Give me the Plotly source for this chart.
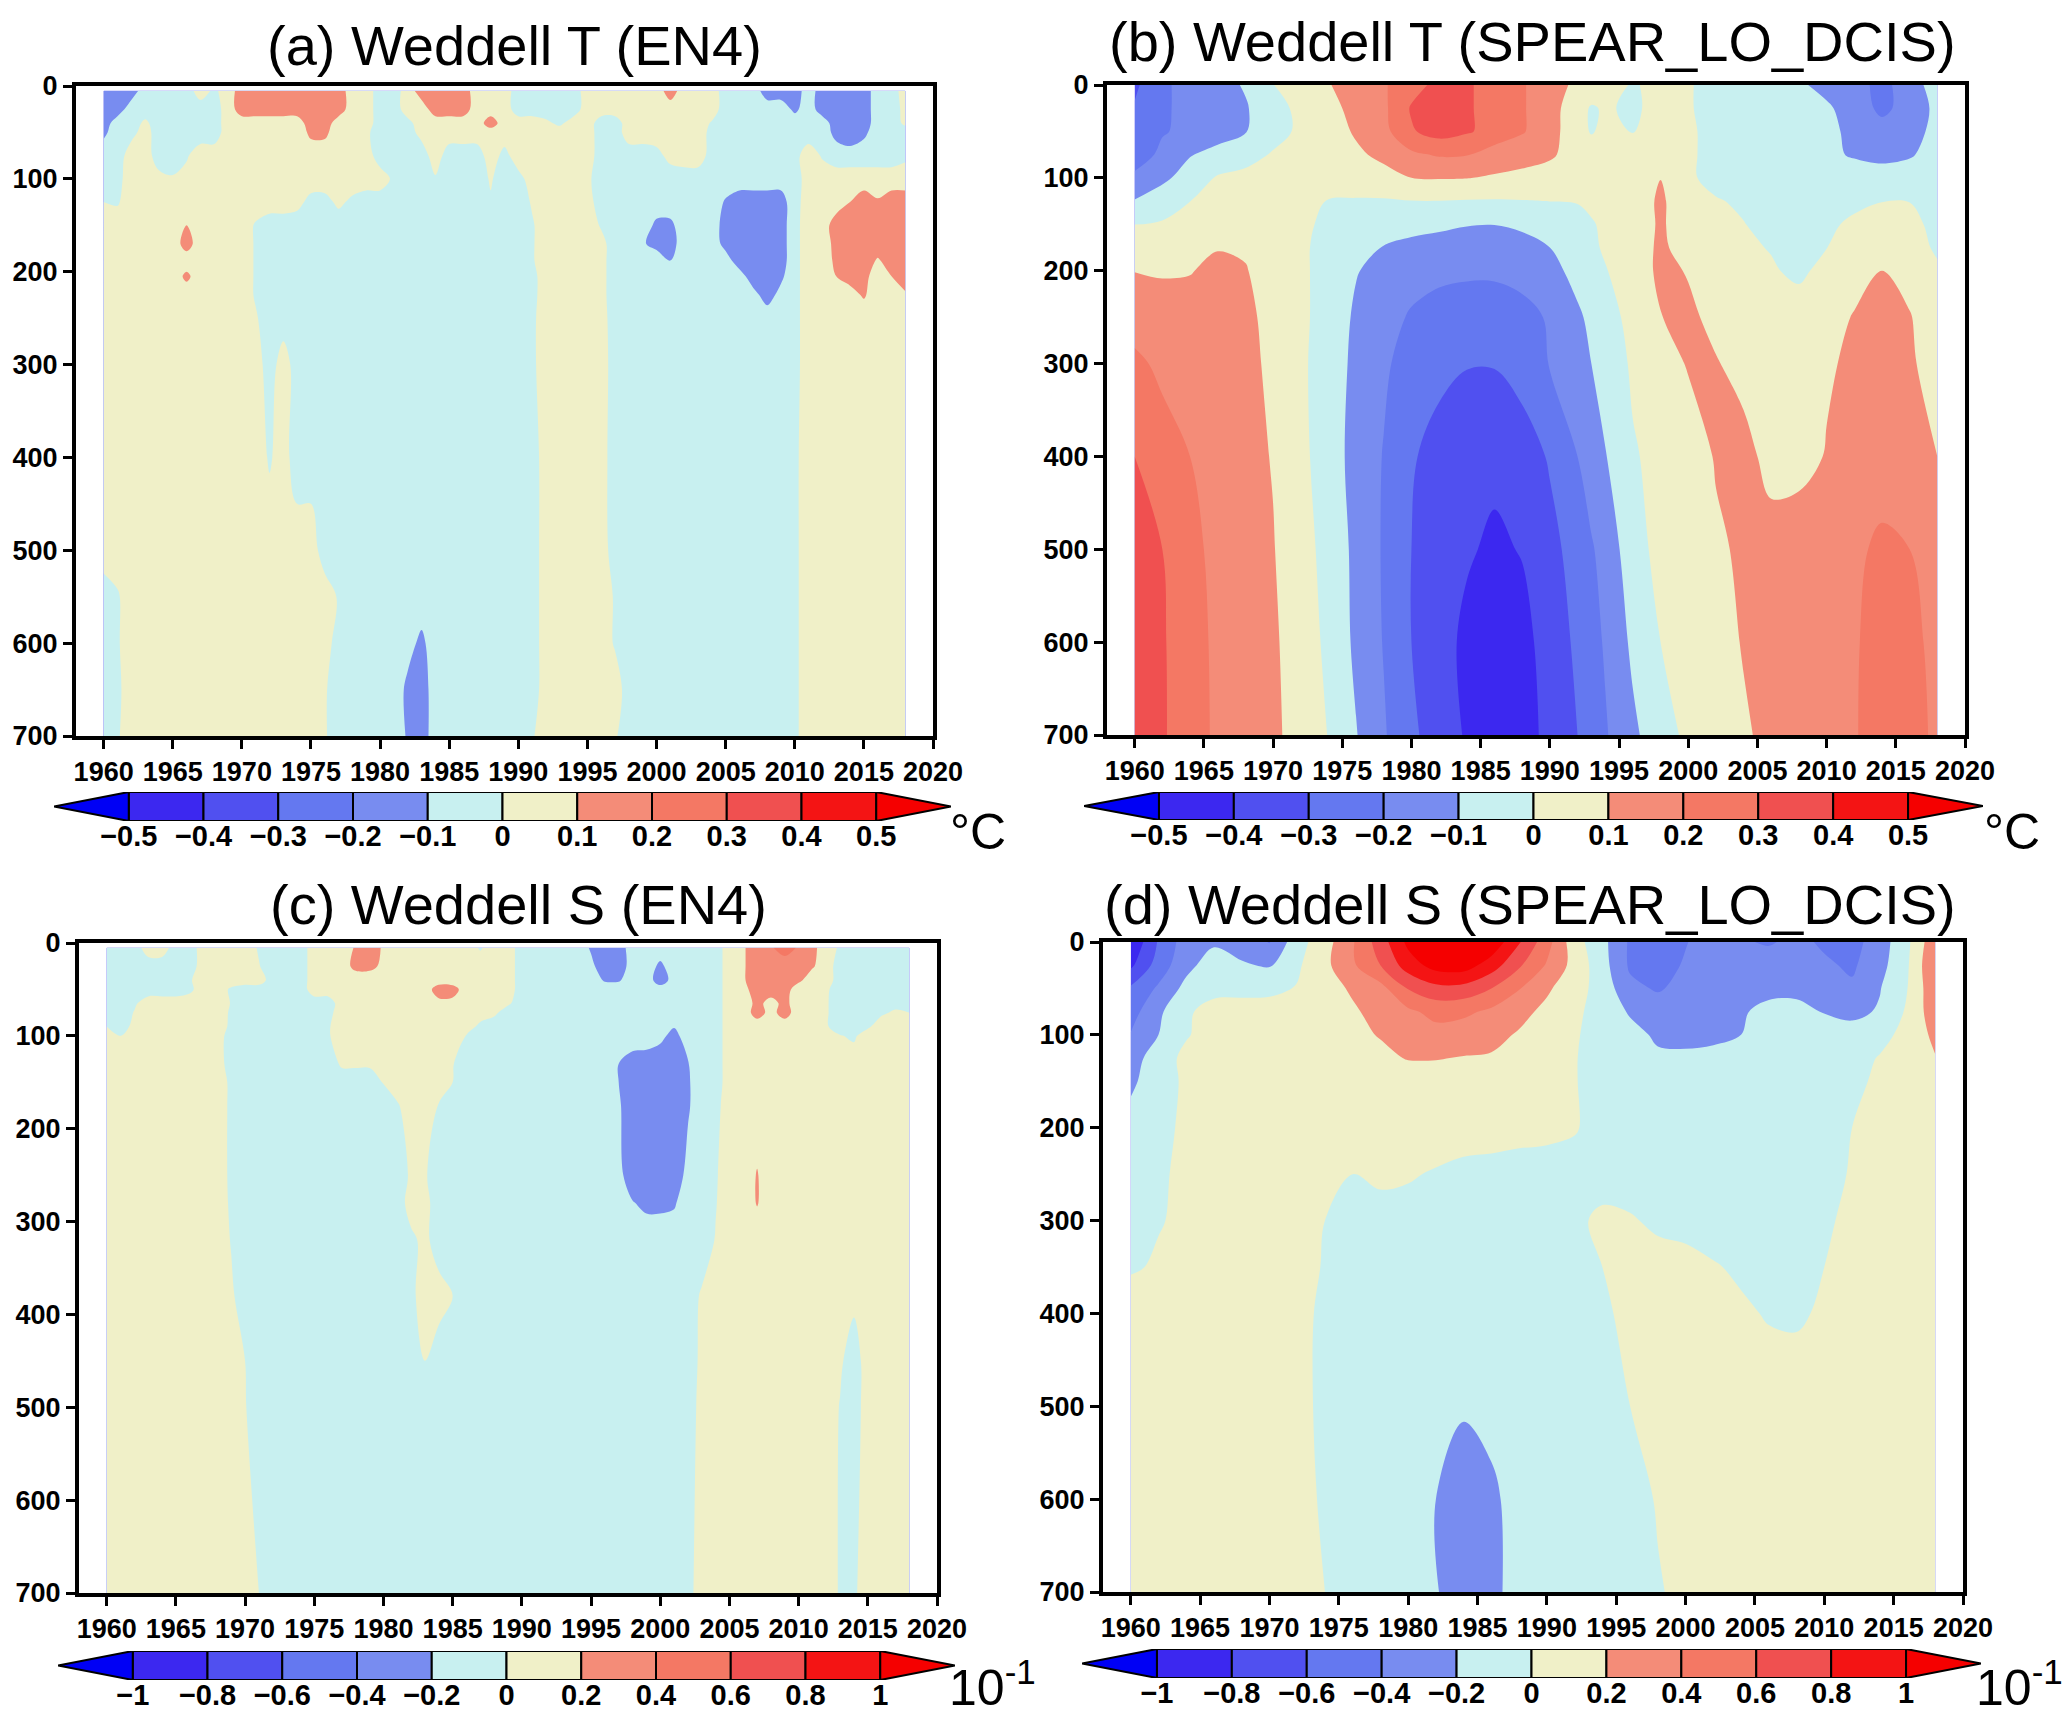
import numpy as np
import plotly.graph_objects as go

# ---------- shared ----------
YEARS_FULL = list(range(1960, 2019))
YEARS_B = [1960,1962,1964,1966,1968,1970,1972,1974,1976,1978,1980,1982,1984,1986,1988,1990,1992,1993,1994,1996,1998,2000,2002,2004,2006,2008,2010,2012,2014,2016,2018]
YEARS_D = list(range(1960, 2019, 2))
X_TICKS = [1960, 1965, 1970, 1975, 1980, 1985, 1990, 1995, 2000, 2005, 2010, 2015, 2020]
Y_TICKS = [0, 100, 200, 300, 400, 500, 600, 700]
BAND_COLORS = ["#0000F5", "#3C28F0", "#5050F0", "#6478F0", "#788CF0", "#C8F0F0",
               "#F0F0C8", "#F48C78", "#F47864", "#F05050", "#F41414", "#F50000"]
T_LEVELS = [-0.5, -0.4, -0.3, -0.2, -0.1, 0, 0.1, 0.2, 0.3, 0.4, 0.5]
T_LABELS = ["\u22120.5", "\u22120.4", "\u22120.3", "\u22120.2", "\u22120.1", "0", "0.1", "0.2", "0.3", "0.4", "0.5"]
S_LEVELS = [-1, -0.8, -0.6, -0.4, -0.2, 0, 0.2, 0.4, 0.6, 0.8, 1]
S_LABELS = ["\u22121", "\u22120.8", "\u22120.6", "\u22120.4", "\u22120.2", "0", "0.2", "0.4", "0.6", "0.8", "1"]

# ---------- (a) Weddell T (EN4), hundredths of a degree ----------
DEPTH_A = [5, 25, 40, 50, 75, 100, 125, 150, 170, 188, 205, 225, 250, 300, 400, 500, 550, 600, 650, 700]
T_EN4 = [
 [-15,-15,-15,-5,-5,-5,-5,5,-2,5, 15,15,15,15,15,15,15,15,5,5, -5,-5,5,15,15,15,15,5,5,5, -5,-5,-5,-5,-5,5,5,5,5,5, 5,15,5,5,5,-5,-5,-5,-15,-15, -15,-5,-15,-15,-15,-15,-5,-5,5],
 [-15,-15,-5,-5,-5,-5,-5,-5,-5,5, 15,15,15,15,15,15,15,15,5,5, -5,-5,5,5,15,15,15,5,5,5, -5,-5,-5,-5,-5,5,5,5,5,5, 5,5,5,5,5,-5,-5,-5,-5,-5, -12,-5,-15,-15,-15,-15,-5,-5,3],
 [-15,-5,-5,2,-5,-5,-5,-5,-5,5, 5,5,5,5,5,15,15,5,5,5, -5,-5,-3,5,5,5,5,5,15,5, 5,5,2,-2,5,5,-5,-5,5,5, 5,5,5,5,-1,-5,-5,-5,-5,-5, -5,-5,-5,-15,-15,-15,-5,-5,2],
 [-12,-5,-3,4,-5,-5,-5,-5,-5,5, 5,5,5,5,5,12,12,5,5,2, -5,-5,-4,3,5,5,5,5,5,5, 5,5,5,5,5,5,-5,-5,5,5, 5,5,5,5,-3,-5,-5,-5,-5,-5, -5,-5,-5,-13,-17,-12,-5,-5,-5],
 [-5,-5,5,5,-5,-5,-1,5,5,5, 5,5,5,5,5,5,5,5,5,5, -5,-5,-5,-5,5,-5,-5,-5,5,-3, 5,5,5,5,5,5,-5,-5,-5,-5, -3,3,5,5,-4,-5,-5,-5,-5,-5, -3,5,-1,-5,-5,-5,-5,-5,-2],
 [-5,-3,5,5,3,1,3,5,5,5, 5,5,5,5,5,5,5,5,5,5, 5,-2,-5,-5,-1,-5,-5,-5,1,-5, -3,4,5,5,5,2,-5,-5,-5,-5, -5,-5,-5,-5,-5,-5,-5,-5,-5,-5, -3,3,5,5,5,5,5,5,5],
 [0,-1,5,5,5,5,5,5,5,5, 5,5,5,5,3,-3,-3,2,-2,-5, -5,-5,-5,-5,-5,-5,-5,-5,-1,-5, -5,1,5,5,5,4,-5,-5,-5,-5, -5,-5,-5,-5,-5,-11,-15,-15,-15,-15, -3,4,5,5,10,15,11,15,15],
 [5,5,5,5,5,5,10,5,5,5, 5,-1,-5,-5,-5,-5,-5,-5,-5,-5, -5,-5,-5,-5,-5,-5,-5,-5,-5,-5, -5,-1,5,5,5,5,-1,-5,-5,-5, -12,-12,-5,-5,-5,-14,-15,-15,-15,-15, -3,5,5,15,15,15,15,15,15],
 [5,5,5,5,5,5,14,5,5,5, 5,-1,-5,-5,-5,-5,-5,-5,-5,-5, -5,-5,-5,-5,-5,-5,-5,-5,-5,-5, -5,-1,5,5,5,5,3,-5,-5,-9, -13,-14,-5,-5,-5,-13,-15,-15,-15,-15, -3,5,5,13,15,15,15,15,15],
 [5,5,5,5,5,5,5,5,5,5, 5,-1,-5,-5,-5,-5,-5,-5,-5,-5, -5,-5,-5,-5,-5,-5,-5,-5,-5,-5, -5,-1,5,5,5,5,3,-5,-5,-5, -5,-10,-5,-5,-5,-6,-15,-15,-15,-15, -3,5,5,12,15,15,9,14,15],
 [5,5,5,5,5,5,12,5,5,5, 5,-1,-5,-5,-5,-5,-5,-5,-5,-5, -5,-5,-5,-5,-5,-5,-5,-5,-5,-5, -5,-3,5,5,5,5,3,-5,-5,-5, -5,-5,-5,-5,-5,-5,-6,-15,-16,-12, -3,5,5,10,13,13,5,10,14],
 [5,5,5,5,5,5,5,5,5,5, 5,-1,-5,-5,-5,-5,-5,-5,-5,-5, -5,-5,-5,-5,-5,-5,-5,-5,-5,-5, -5,-3,5,5,5,5,3,-5,-5,-5, -5,-5,-5,-5,-5,-5,-5,-7,-14,-7, -3,5,5,5,7,11,5,5,9],
 [5,5,5,5,5,5,5,5,5,5, 5,1,-5,-5,-5,-5,-5,-5,-5,-5, -5,-5,-5,-5,-5,-5,-5,-5,-5,-5, -5,-2,5,5,5,5,4,-5,-5,-5, -5,-5,-5,-5,-5,-5,-5,-5,-5,-5, -3,5,5,5,5,5,5,5,5],
 [5,5,5,5,5,5,5,5,5,5, 5,5,-5,5,-5,-5,-5,-5,-5,-5, -5,-5,-5,-5,-5,-5,-5,-5,-5,-5, -5,-2,5,5,5,5,5,-5,-5,-5, -5,-5,-5,-5,-5,-5,-5,-5,-5,-5, -3,5,5,5,5,5,5,5,5],
 [5,5,5,5,5,5,5,5,5,5, 5,5,-1,4,-5,-5,-5,-5,-5,-5, -5,-5,-5,-5,-5,-5,-5,-5,-5,-5, -5,-5,5,5,5,5,4,-5,-5,-5, -5,-5,-5,-5,-5,-5,-5,-5,-5,-5, -2,5,5,5,5,5,5,5,5],
 [5,5,5,5,5,5,5,5,5,5, 5,5,5,5,5,5,-5,-5,-5,-5, -5,-5,-5,-5,-5,-5,-5,-5,-5,-5, -5,-5,5,5,5,5,5,-5,-5,-5, -5,-5,-5,-5,-5,-5,-5,-5,-5,-5, -2,5,5,5,5,5,5,5,5],
 [-5,-1,5,5,5,5,5,5,5,5, 5,5,5,5,5,5,5,-1,-5,-5, -5,-5,-5,-5,-5,-5,-5,-5,-5,-5, -5,-5,5,5,5,5,5,-1,-5,-5, -5,-5,-5,-5,-5,-5,-5,-5,-5,-5, -2,5,5,5,5,5,5,5,5],
 [-5,-1,5,5,5,5,5,5,5,5, 5,5,5,5,5,5,5,-5,-5,-5, -5,-5,-7,-12,-5,-5,-5,-5,-5,-5, -5,-5,5,5,5,5,5,-1,-5,-5, -5,-5,-5,-5,-5,-5,-5,-5,-5,-5, -2,5,5,5,5,5,5,5,5],
 [-5,-2,5,5,5,5,5,5,5,5, 5,5,5,5,5,5,1,-5,-5,-5, -5,-5,-12,-15,-5,-5,-5,-5,-5,-5, -5,-5,5,5,5,5,5,5,-5,-5, -5,-5,-5,-5,-5,-5,-5,-5,-5,-5, -2,5,5,5,5,5,5,5,5],
 [-5,-1,5,5,5,5,5,5,5,5, 5,5,5,5,5,5,1,-5,-5,-5, -5,-5,-11,-15,-5,-5,-5,-5,-5,-5, -5,-1,5,5,5,5,5,1,-5,-5, -5,-5,-5,-5,-5,-5,-5,-5,-5,-5, -2,5,5,5,5,5,5,5,5],
]

# ---------- (b) Weddell T (SPEAR_LO_DCIS), hundredths of a degree ----------
DEPTH_B = [0, 25, 50, 75, 100, 125, 150, 175, 200, 250, 300, 400, 500, 600, 700]
T_SPEAR = [
 [-32,-21,-18,-14,-9,-0.2,5,9.5,14,19,26,33,31,27,21,14,8,6,5,-1,3,0.5,-2,-4,-6,-9,-12,-15,-24,-13,-7],
 [-29,-21,-18,-16,-11,-3,2,7,13,18,31,36,31,27,21,14,4,-1,1,-1.5,3,0.5,-2,-4,-5,-8,-9,-13,-23,-15,-8],
 [-27,-21,-17,-14,-10.5,-4,2,6,11,17,29,34,31,27,21,13,5,-1,3,-0.5,5,1,-2,-4,-5,-5,-8,-12,-15,-14,-7],
 [-27,-17,-10.5,-7,-4,1,3,5,8.5,12,18,21,20.5,15,13,11,7,6.5,6,5,4,1,-2,-4,-5,-6,-8,-11,-12.5,-11,-6],
 [-17,-12,-6,1,3,3,2,4,5,7,10,10.5,10.3,9,8,7,6,5.5,5,4,9.8,1,-2,-3,-4,-5,-5,-5,-6,-5,-3],
 [-9.5,-5,-0.1,3,4,3,1,-0.2,-0.8,-1,-0.2,-0.1,-0.6,-0.8,-0.4,0.1,0.3,1.2,2,3,12,2,0.5,-1,-3,-5,-3,-1.2,-0.1,-0.1,-2],
 [-0.1,1,4,6,5.5,3.5,1,-1,-3,-5,-7,-8,-9.5,-9.8,-8,-5,-2,-0.5,1,3.5,11.5,4,2,0.2,-2,-4,-1,1,2,1.5,-1.5],
 [7,6,7.5,9.5,9,5,1,-2,-6,-10.5,-12.5,-14,-15,-15.5,-14,-10,-5,-1.5,1,4,12,5.5,3.5,1.5,-0.5,-3,-0.1,2.5,4,3,-1],
 [9.8,9,9.5,12.5,10.5,6,1.5,-3,-9.5,-13,-16.5,-18,-18.5,-18.5,-17,-13,-7,-3,-0.5,4.5,12,9.5,5.5,3,1,-2,3,7,10,7,1],
 [16,15,14.5,14,11.5,8,2,-4,-11.5,-16.5,-21,-23.5,-25,-25,-23,-19,-11.5,-8,-4,3,9.8,11.5,8,6,5.5,5,7,10.5,12.5,10.5,5],
 [22,18,16.5,15,12,8.5,2,-5.5,-12,-18.5,-24,-27.5,-29.5,-29.5,-26,-19.5,-14,-10,-6.5,1.5,7,10.5,10.5,7.5,6,6,9,11.5,13,11,7],
 [30,24,20,17,13,9.5,2.5,-5,-13.5,-20.5,-29,-33.5,-37,-38,-35,-29,-20,-15,-10.5,-1,3,6.5,10.5,12.5,7.5,7,10.5,13,15,14,10],
 [34,30,22,18,14,10.5,3.5,-3,-12.5,-21,-30,-36,-39,-41.5,-39.5,-33,-26,-21,-16.5,-4,3,6,9,11,13,15,17,18,22,20,14],
 [35,31,24,18,15,11.5,5,-2,-12,-20.5,-30,-36.5,-42,-46,-43,-36,-28,-23.5,-19,-8,0,4,7,10.5,13,15,17,19,24,23,17],
 [36,31,25,18,15,12,6,-0.3,-9.5,-19,-28,-35,-41,-45,-43,-38,-30,-25.5,-21,-12,-4,2,6,9,12,14,17,19.5,23,22,19],
]

# ---------- (c) Weddell S (EN4), hundredths of the 10^-1 unit ----------
DEPTH_C = [5, 25, 40, 50, 65, 75, 90, 100, 130, 150, 175, 250, 280, 320, 380, 450, 500, 700]
S_EN4 = [
 [-10,-10,-10,10,10,-10,-10,10,10,10, 10,-2,-10,-10,-10,10,10,10,22,28, 18,10,10,10,10,10,10,-2,10,10, -10,-10,-10,-10,-10,-22,-30,-30,-10,-10, -10,-10,-10,-10,-10,10,18,30,38,48, 38,25,10,-3,-10,-10,-10,-10,-10],
 [-10,-10,-10,-10,-10,-10,-10,10,10,10, 10,1,-10,-10,-10,10,10,12,25,25, 16,10,10,10,10,10,10,10,10,10, -10,-10,-10,-10,-10,-16,-30,-30,-12,-10, -24,-10,-10,-10,-10,10,18,30,30,30, 30,22,10,-10,-10,-10,-10,-10,-10],
 [-10,-10,-10,-10,-10,-10,-2,10,10,10, 10,10,-10,-10,-10,10,10,10,10,10, 10,10,10,10,10,10,10,10,10,10, -10,-10,-10,-10,-10,-10,-22,-22,-10,-12, -28,-14,-10,-10,-10,10,18,30,30,30, 24,10,10,-10,-10,-10,-10,-10,-10],
 [-10,-10,-10,-10,-10,-10,-4,10,10,-3, -10,-10,-10,-10,-10,10,10,10,10,10, 10,10,10,10,30,28,10,10,10,10, -10,-10,-10,-10,-10,-10,-10,-10,-10,-10, -13,-10,-10,-10,-10,10,15,28,28,28, 10,10,3,-10,-10,-10,-10,-10,-10],
 [-10,-10,-3,10,10,10,10,10,10,-1, -10,-10,-10,-10,-10,-10,-10,10,10,10, 10,10,10,10,14,14,10,10,10,3, -10,-10,-10,-10,-10,-10,-10,-10,-10,-10, -10,-10,-10,-10,-10,10,10,25,14,25, 10,10,2,-10,-10,-10,-10,-6,-6],
 [-10,-10,1,10,10,10,10,10,10,-3, -10,-10,-10,-10,-10,-10,-6,10,10,10, 10,10,10,10,10,10,10,10,4,-10, -10,-10,-10,-10,-10,-10,-10,-10,-10,-10, -10,-10,-10,-10,-10,10,10,28,14,28, 10,10,2,-10,-10,-10,-3,3,0],
 [0,-5,3,10,10,10,10,10,10,-4, -10,-10,-10,-10,-10,-10,-2,10,10,10, 10,10,10,10,10,10,10,-5,-10,-10, -10,-10,-10,-10,-10,-10,-10,-10,-10,-10, -10,-19,-10,-10,-10,10,10,10,10,10, 10,10,2,-10,-10,-3,10,10,10],
 [5,0,10,10,10,10,10,10,10,-10, -10,-10,-10,-10,-10,-10,-2,10,10,10, 10,10,10,10,10,10,-1,-10,-10,-10, -10,-10,-10,-10,-10,-10,-10,-10,-10,-10, -16,-25,-12,-10,-10,10,10,10,10,10, 10,10,10,1,-3,10,10,10,10],
 [10,10,10,10,10,10,10,10,10,-10, -10,-10,-10,-10,-10,-10,-10,3,3,3, 10,10,10,10,10,1,-10,-10,-10,-10, -10,-10,-10,-10,-10,-10,-10,-20,-28,-30, -30,-30,-21,-10,-10,10,10,10,10,10, 10,10,10,10,10,10,10,10,10],
 [10,10,10,10,10,10,10,10,10,-4, -10,-10,-10,-10,-10,-10,-10,-10,-10,-10, 1,10,10,10,10,0,-10,-10,-10,-10, -10,-10,-10,-10,-10,-10,-10,-20,-30,-30, -30,-30,-22,-10,-10,10,10,10,10,10, 10,10,10,10,10,10,10,10,10],
 [10,10,10,10,10,10,10,10,10,-4, -10,-10,-10,-10,-10,-10,-10,-10,-10,-10, -10,-2,10,10,-1,-10,-10,-10,-10,-10, -10,-10,-10,-10,-10,-10,-10,-18,-30,-30, -30,-30,-22,-10,-6,10,10,10,10,10, 10,10,10,10,10,10,10,10,10],
 [10,10,10,10,10,10,10,10,10,-4, -10,-10,-10,-10,-10,-10,-10,-10,-10,-10, -10,-10,3,2,-10,-10,-10,-10,-10,-10, -10,-10,-10,-10,-10,-10,-10,-15,-30,-30, -30,-30,-15,-10,-2,10,10,21,10,10, 10,10,10,10,10,10,10,10,10],
 [10,10,10,10,10,10,10,10,10,-3, -10,-10,-10,-10,-10,-10,-10,-10,-10,-10, -10,-10,8,6,-10,-10,-10,-10,-10,-10, -10,-10,-10,-10,-10,-10,-10,-10,-19,-24, -24,-22,-10,-10,-1,10,10,21,10,10, 10,10,10,10,10,10,10,10,10],
 [10,10,10,10,10,10,10,10,10,-1, -10,-10,-10,-10,-10,-10,-10,-10,-10,-10, -10,-10,-4,5,-10,-10,-10,-10,-10,-10, -10,-10,-10,-10,-10,-10,-10,-10,-10,-10, -10,-10,-10,-10,1,10,10,10,10,10, 10,10,10,10,10,10,10,10,10],
 [10,10,10,10,10,10,10,10,10,3, -10,-10,-10,-10,-10,-10,-10,-10,-10,-10, -10,-10,-4,8,8,0,-10,-10,-10,-10, -10,-10,-10,-10,-10,-10,-10,-10,-10,-10, -10,-10,-8,2,10,10,10,10,10,10, 10,10,10,10,5,10,10,10,10],
 [10,10,10,10,10,10,10,10,10,10, 0,-10,-10,-10,-10,-10,-10,-10,-10,-10, -10,-10,-10,0,-10,-10,-10,-10,-10,-10, -10,-10,-10,-10,-10,-10,-10,-10,-10,-10, -10,-10,-7,3,10,10,10,10,10,10, 10,10,10,3,-10,10,10,10,10],
 [10,10,10,10,10,10,10,10,10,10, 1,-10,-10,-10,-10,-10,-10,-10,-10,-10, -10,-10,-10,-10,-10,-10,-10,-10,-10,-10, -10,-10,-10,-10,-10,-10,-10,-10,-10,-10, -10,-10,-6,4,10,10,10,10,10,10, 10,10,10,-1,-10,10,10,10,10],
 [10,10,10,10,10,10,10,10,10,10, 10,0,-10,-10,-10,-10,-10,-10,-10,-10, -10,-10,-10,-10,-10,-10,-10,-10,-10,-10, -10,-10,-10,-10,-10,-10,-10,-10,-10,-10, -10,-10,-4,6,10,10,10,10,10,10, 10,10,10,-2,-3,10,10,10,10],
]

# ---------- (d) Weddell S (SPEAR_LO_DCIS), hundredths of the 10^-1 unit ----------
DEPTH_D = [0, 25, 50, 75, 100, 125, 150, 200, 250, 300, 350, 400, 500, 600, 700]
S_SPEAR = [
 [-98,-58,-30,-23,-28,-41,-8,12,38,70,105,120,125,115,82,48,8,-14,-43,-52,-41,-31,-38,-42,-35,-43,-47,-30,-4,35],
 [-84,-51,-26,-10,-18,-22,-3,15,37,60,90,108,110,90,63,38,13,-12,-43,-48,-38,-30,-32,-30,-30,-37,-43,-27,-2,40],
 [-57,-37,-14,-4,-4,-4,1,14,22,33,61,74,73,60,41,23,8,-8,-35,-42,-34,-32,-29,-25,-27,-30,-37,-21,0,35],
 [-48,-24,-2,5,6,7,9,12,18,25,36,46,44,36,26,15,4,-8,-22,-30,-30,-28,-22,-15,-12,-21,-25,-18,3,32],
 [-39,-20,-1,5,7,9,11,13,16,21,28,33,30,26,18,12,2,-8,-14,-23,-26,-24,-20,-17,-14,-13,-12,-5,5,25],
 [-32,-6,3,8,9,9,10,11,13,16,21,21,19,18,14,10,1,-8,-14,-17,-16,-15,-14,-13,-13,-11,-6,1,6,19],
 [-24,-8,3,7,8,8,8,9,9,10,10,10,10,10,8,5,1,-8,-12,-14,-14,-14,-13,-13,-12,-10,-4,3,7,10],
 [-12,-3,2,5,7,7,7,7,6,6,6,6,5,5,4,3,1,-5,-9,-11,-11,-12,-12,-12,-10,-6,0,5,8,10],
 [-8,-2,3,6,6,6,5,3,0,2,1,-1,-3,-4,-5,-5,-5,-4,-5,-7,-8,-9,-10,-10,-8,-4,1,5,7,10],
 [-5,-1,3,5,6,6,4,0,-3,-4,-4,-4,-4,-3,-3,-3,-2,2,1,-2,-4,-6,-7,-8,-6,-2,3,6,8,10],
 [-2,2,5,8,10,10,5,-1,-3,-4,-5,-6,-6,-6,-5,-4,-3,0,3,4,4,1,-2,-4,-4,0,5,8,9,10],
 [10,10,10,10,10,10,3,-2,-5,-7,-9,-10,-11,-10,-9,-7,-5,-2,3,4,5,3,2,-1,-2,2,6,8,9,10],
 [10,10,10,10,10,10,4,-3,-7,-10,-13,-16,-19,-17,-13,-11,-7,-4,0,3,5,6,7,7,8,9,10,10,10,10],
 [10,10,10,10,10,10,5,-2,-7,-12,-17,-20,-25,-22,-16,-13,-10,-8,-5,1,3,5,6,7,8,9,10,10,10,10],
 [10,10,10,10,10,9,6,0,-6,-11,-16,-19.5,-24,-22,-17,-14,-12,-10,-7,-1,3,5,6,7,8,9,10,10,10,10],
]

# ---------- layout helpers (reference pixels) ----------
W, H = 2067, 1723
PANELS = [
    dict(x=YEARS_FULL, y=DEPTH_A, z=T_EN4,   box=(76, 933, 86, 736),      bar=(54, 951, 792, 821),
         title="(a) Weddell T (EN4)", tx=514, ty=46, unit="\u00b0C", ux=978, uy=832),
    dict(x=YEARS_B,    y=DEPTH_B, z=T_SPEAR, box=(1107, 1965, 85, 735),   bar=(1084, 1983, 792, 820),
         title="(b) Weddell T (SPEAR_LO_DCIS)", tx=1532, ty=41, unit="\u00b0C", ux=2012, uy=832),
    dict(x=YEARS_FULL, y=DEPTH_C, z=S_EN4,   box=(79, 937, 943, 1593),    bar=(58, 955, 1651, 1680),
         title="(c) Weddell S (EN4)", tx=518, ty=904, unit="10<sup>-1</sup>", ux=992, uy=1684),
    dict(x=YEARS_D,    y=DEPTH_D, z=S_SPEAR, box=(1103, 1963, 942, 1592), bar=(1082, 1981, 1649, 1678),
         title="(d) Weddell S (SPEAR_LO_DCIS)", tx=1530, ty=904, unit="10<sup>-1</sup>", ux=2019, uy=1684),
]
LEVEL_SETS = [(T_LEVELS, T_LABELS), (T_LEVELS, T_LABELS), (S_LEVELS, S_LABELS), (S_LEVELS, S_LABELS)]
# no cell falls below the lowest level, so the band under it stays white and leaves no edge sliver
CONTOUR_COLORS = ["#FFFFFF"] + BAND_COLORS[1:]
COLORSCALE = [[i / 11, c] for i, c in enumerate(CONTOUR_COLORS)]
TICK_FONT = dict(family="Liberation Sans", size=27, color="black", weight="bold")


def px_x(v):
    return v / W


def px_y(v):
    return 1 - v / H


for p in PANELS:
    for row in p["z"]:
        assert len(row) == len(p["x"]), (p["title"], len(row), len(p["x"]))
    assert len(p["z"]) == len(p["y"]), p["title"]

fig = go.Figure()
layout = dict(width=W, height=H, margin=dict(l=0, r=0, t=0, b=0, autoexpand=False), paper_bgcolor="white",
              plot_bgcolor="white", showlegend=False, annotations=[],
              font=dict(family="Liberation Sans", color="black"))

for i, (p, (levels, labels)) in enumerate(zip(PANELS, LEVEL_SETS)):
    n = 2 * i + 1
    xa, ya = f"x{n if n > 1 else ''}", f"y{n if n > 1 else ''}"
    xb, yb = f"x{n + 1}", f"y{n + 1}"
    step = round(levels[1] - levels[0], 3)
    fig.add_trace(go.Contour(
        x=p["x"], y=p["y"], z=(np.array(p["z"], dtype=float) / 100).tolist(),
        xaxis=xa, yaxis=ya, autocontour=False,
        contours=dict(start=levels[0], end=levels[-1], size=step, coloring="fill", showlines=False),
        line=dict(width=0), colorscale=COLORSCALE, showscale=False, hoverinfo="skip",
    ))
    L, R, T, B = p["box"]
    layout["xaxis" + xa[1:]] = dict(
        domain=[px_x(L), px_x(R)], range=[1958, 2020], anchor=ya, tickvals=X_TICKS,
        ticks="outside", ticklen=9, tickwidth=3, tickcolor="black", linecolor="black",
        linewidth=4, mirror=True, showgrid=False, zeroline=False, tickfont=TICK_FONT)
    layout["yaxis" + ya[1:]] = dict(
        domain=[px_y(B), px_y(T)], range=[700, 0], anchor=xa, tickvals=Y_TICKS,
        ticks="outside", ticklen=9, tickwidth=3, tickcolor="black", linecolor="black",
        linewidth=4, mirror=True, showgrid=False, zeroline=False, tickfont=TICK_FONT)

    # colour key: one box per band plus a triangle at each end
    fig.add_trace(go.Bar(
        x=[(a + b) / 2 for a, b in zip(levels[:-1], levels[1:])], y=[1] * (len(levels) - 1),
        width=step, marker=dict(color=BAND_COLORS[1:-1], line=dict(color="black", width=2)),
        xaxis=xb, yaxis=yb, hoverinfo="skip"))
    for edge, tip, col in ((levels[0], levels[0] - step, BAND_COLORS[0]),
                           (levels[-1], levels[-1] + step, BAND_COLORS[-1])):
        fig.add_trace(go.Scatter(
            x=[edge, tip, edge, edge], y=[0, 0.5, 1, 0], mode="lines", fill="toself", fillcolor=col,
            line=dict(color="black", width=2), xaxis=xb, yaxis=yb, hoverinfo="skip"))
    bl, br, bt, bb = p["bar"]
    layout[f"xaxis{n + 1}"] = dict(
        domain=[px_x(bl), px_x(br)], range=[levels[0] - step, levels[-1] + step], anchor=yb,
        tickvals=levels, ticktext=labels, ticks="", showgrid=False, zeroline=False, showline=False,
        ticklabelstandoff=-5,
        tickfont=dict(family="Liberation Sans", size=29, color="black", weight="bold"))
    layout[f"yaxis{n + 1}"] = dict(
        domain=[px_y(bb), px_y(bt)], range=[0, 1], anchor=xb, visible=False, showgrid=False, zeroline=False)

    layout["annotations"].append(dict(
        text=p["title"], xref="paper", yref="paper", x=px_x(p["tx"]), y=px_y(p["ty"]),
        xanchor="center", yanchor="middle", showarrow=False,
        font=dict(family="Liberation Sans", size=56, color="black")))
    layout["annotations"].append(dict(
        text=p["unit"], xref="paper", yref="paper", x=px_x(p["ux"]), y=px_y(p["uy"]),
        xanchor="center", yanchor="middle", showarrow=False,
        font=dict(family="Liberation Sans", size=50, color="black")))

fig.update_layout(**layout)
fig.write_html("out.html", config={"displayModeBar": False},
               post_script="document.body.style.margin='0';document.body.style.overflow='hidden';")
